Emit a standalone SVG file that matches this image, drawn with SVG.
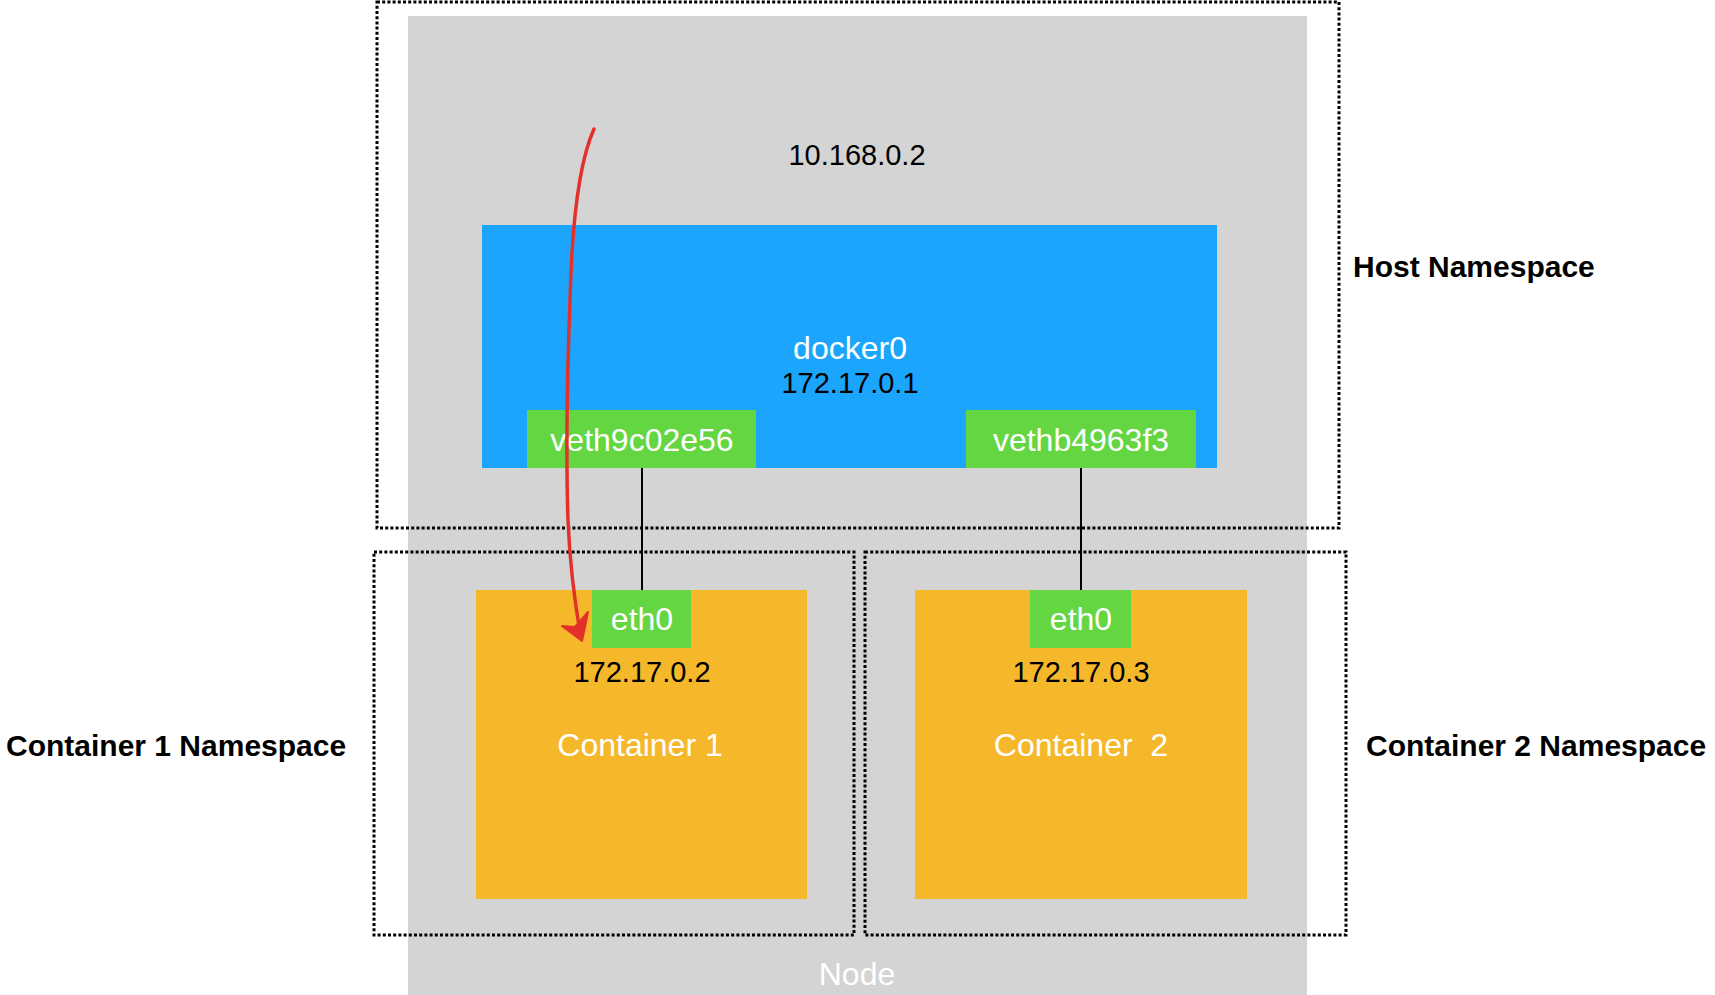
<svg xmlns="http://www.w3.org/2000/svg" width="1715" height="995" viewBox="0 0 1715 995">
<style>
  text { font-family: "Liberation Sans", Arial, sans-serif; }
  .ns { fill: none; stroke: #000; stroke-width: 3; stroke-dasharray: 3 2.2; }
  .green { fill: #64d642; }
  .orange { fill: #f5b82b; }
  .wlab { fill: #ffffff; font-size: 32px; text-anchor: middle; }
  .ip { fill: #000; font-size: 29px; text-anchor: middle; }
  .nslab { fill: #000; font-size: 30px; font-weight: bold; }
  .link { stroke: #000; stroke-width: 2; fill: none; }
</style>
<rect width="1715" height="995" fill="#ffffff"/>

<g id="node">
  <rect x="408" y="16" width="899" height="979" fill="#d4d4d4"/>
  <text x="857" y="985" class="wlab" fill="#f4f4f4">Node</text>
  <text x="857" y="165" class="ip">10.168.0.2</text>
</g>

<g id="host-namespace">
  <rect x="377" y="2" width="962" height="526" class="ns"/>
  <text x="1353" y="277" class="nslab">Host Namespace</text>
</g>

<g id="container1-namespace">
  <rect x="374" y="552" width="480" height="383" class="ns"/>
  <text x="6" y="756" class="nslab">Container 1 Namespace</text>
</g>

<g id="container2-namespace">
  <rect x="865" y="552" width="481" height="383" class="ns"/>
  <text x="1366" y="756" class="nslab">Container 2 Namespace</text>
</g>

<g id="docker0">
  <rect x="482" y="225" width="735" height="243" fill="#1ca5fc"/>
  <text x="850" y="359" class="wlab">docker0</text>
  <text x="850" y="393" class="ip">172.17.0.1</text>
</g>

<g id="veth9c02e56">
  <rect x="527" y="410" width="229" height="58" class="green"/>
  <text x="642" y="451" class="wlab">veth9c02e56</text>
</g>

<g id="vethb4963f3">
  <rect x="966" y="410" width="230" height="58" class="green"/>
  <text x="1081" y="451" class="wlab">vethb4963f3</text>
</g>

<g id="container1">
  <rect x="476" y="590" width="331" height="309" class="orange"/>
  <text x="642" y="682" class="ip">172.17.0.2</text>
  <text x="640" y="756" class="wlab">Container 1</text>
</g>

<g id="container1-eth0">
  <rect x="592" y="590" width="99" height="58" class="green"/>
  <text x="642" y="630" class="wlab">eth0</text>
</g>

<g id="container2">
  <rect x="915" y="590" width="332" height="309" class="orange"/>
  <text x="1081" y="682" class="ip">172.17.0.3</text>
  <text x="1081" y="756" class="wlab" xml:space="preserve">Container  2</text>
</g>

<g id="container2-eth0">
  <rect x="1030" y="590" width="101" height="58" class="green"/>
  <text x="1081" y="630" class="wlab">eth0</text>
</g>

<g id="connectors">
  <line x1="642" y1="468" x2="642" y2="590" class="link"/>
  <line x1="1081" y1="468" x2="1081" y2="590" class="link"/>
  <path d="M594,129 C580,160 572,220 570,300 C567,380 566,460 568,520 C570,570 576,610 581,638" fill="none" stroke="#e4302a" stroke-width="3.5" stroke-linecap="round"/>
  <path d="M582,641 L562,626 L575,627 L588,612 L585,627 Z" fill="#e4302a" stroke="#e4302a" stroke-width="2" stroke-linejoin="round"/>
</g>
</svg>
